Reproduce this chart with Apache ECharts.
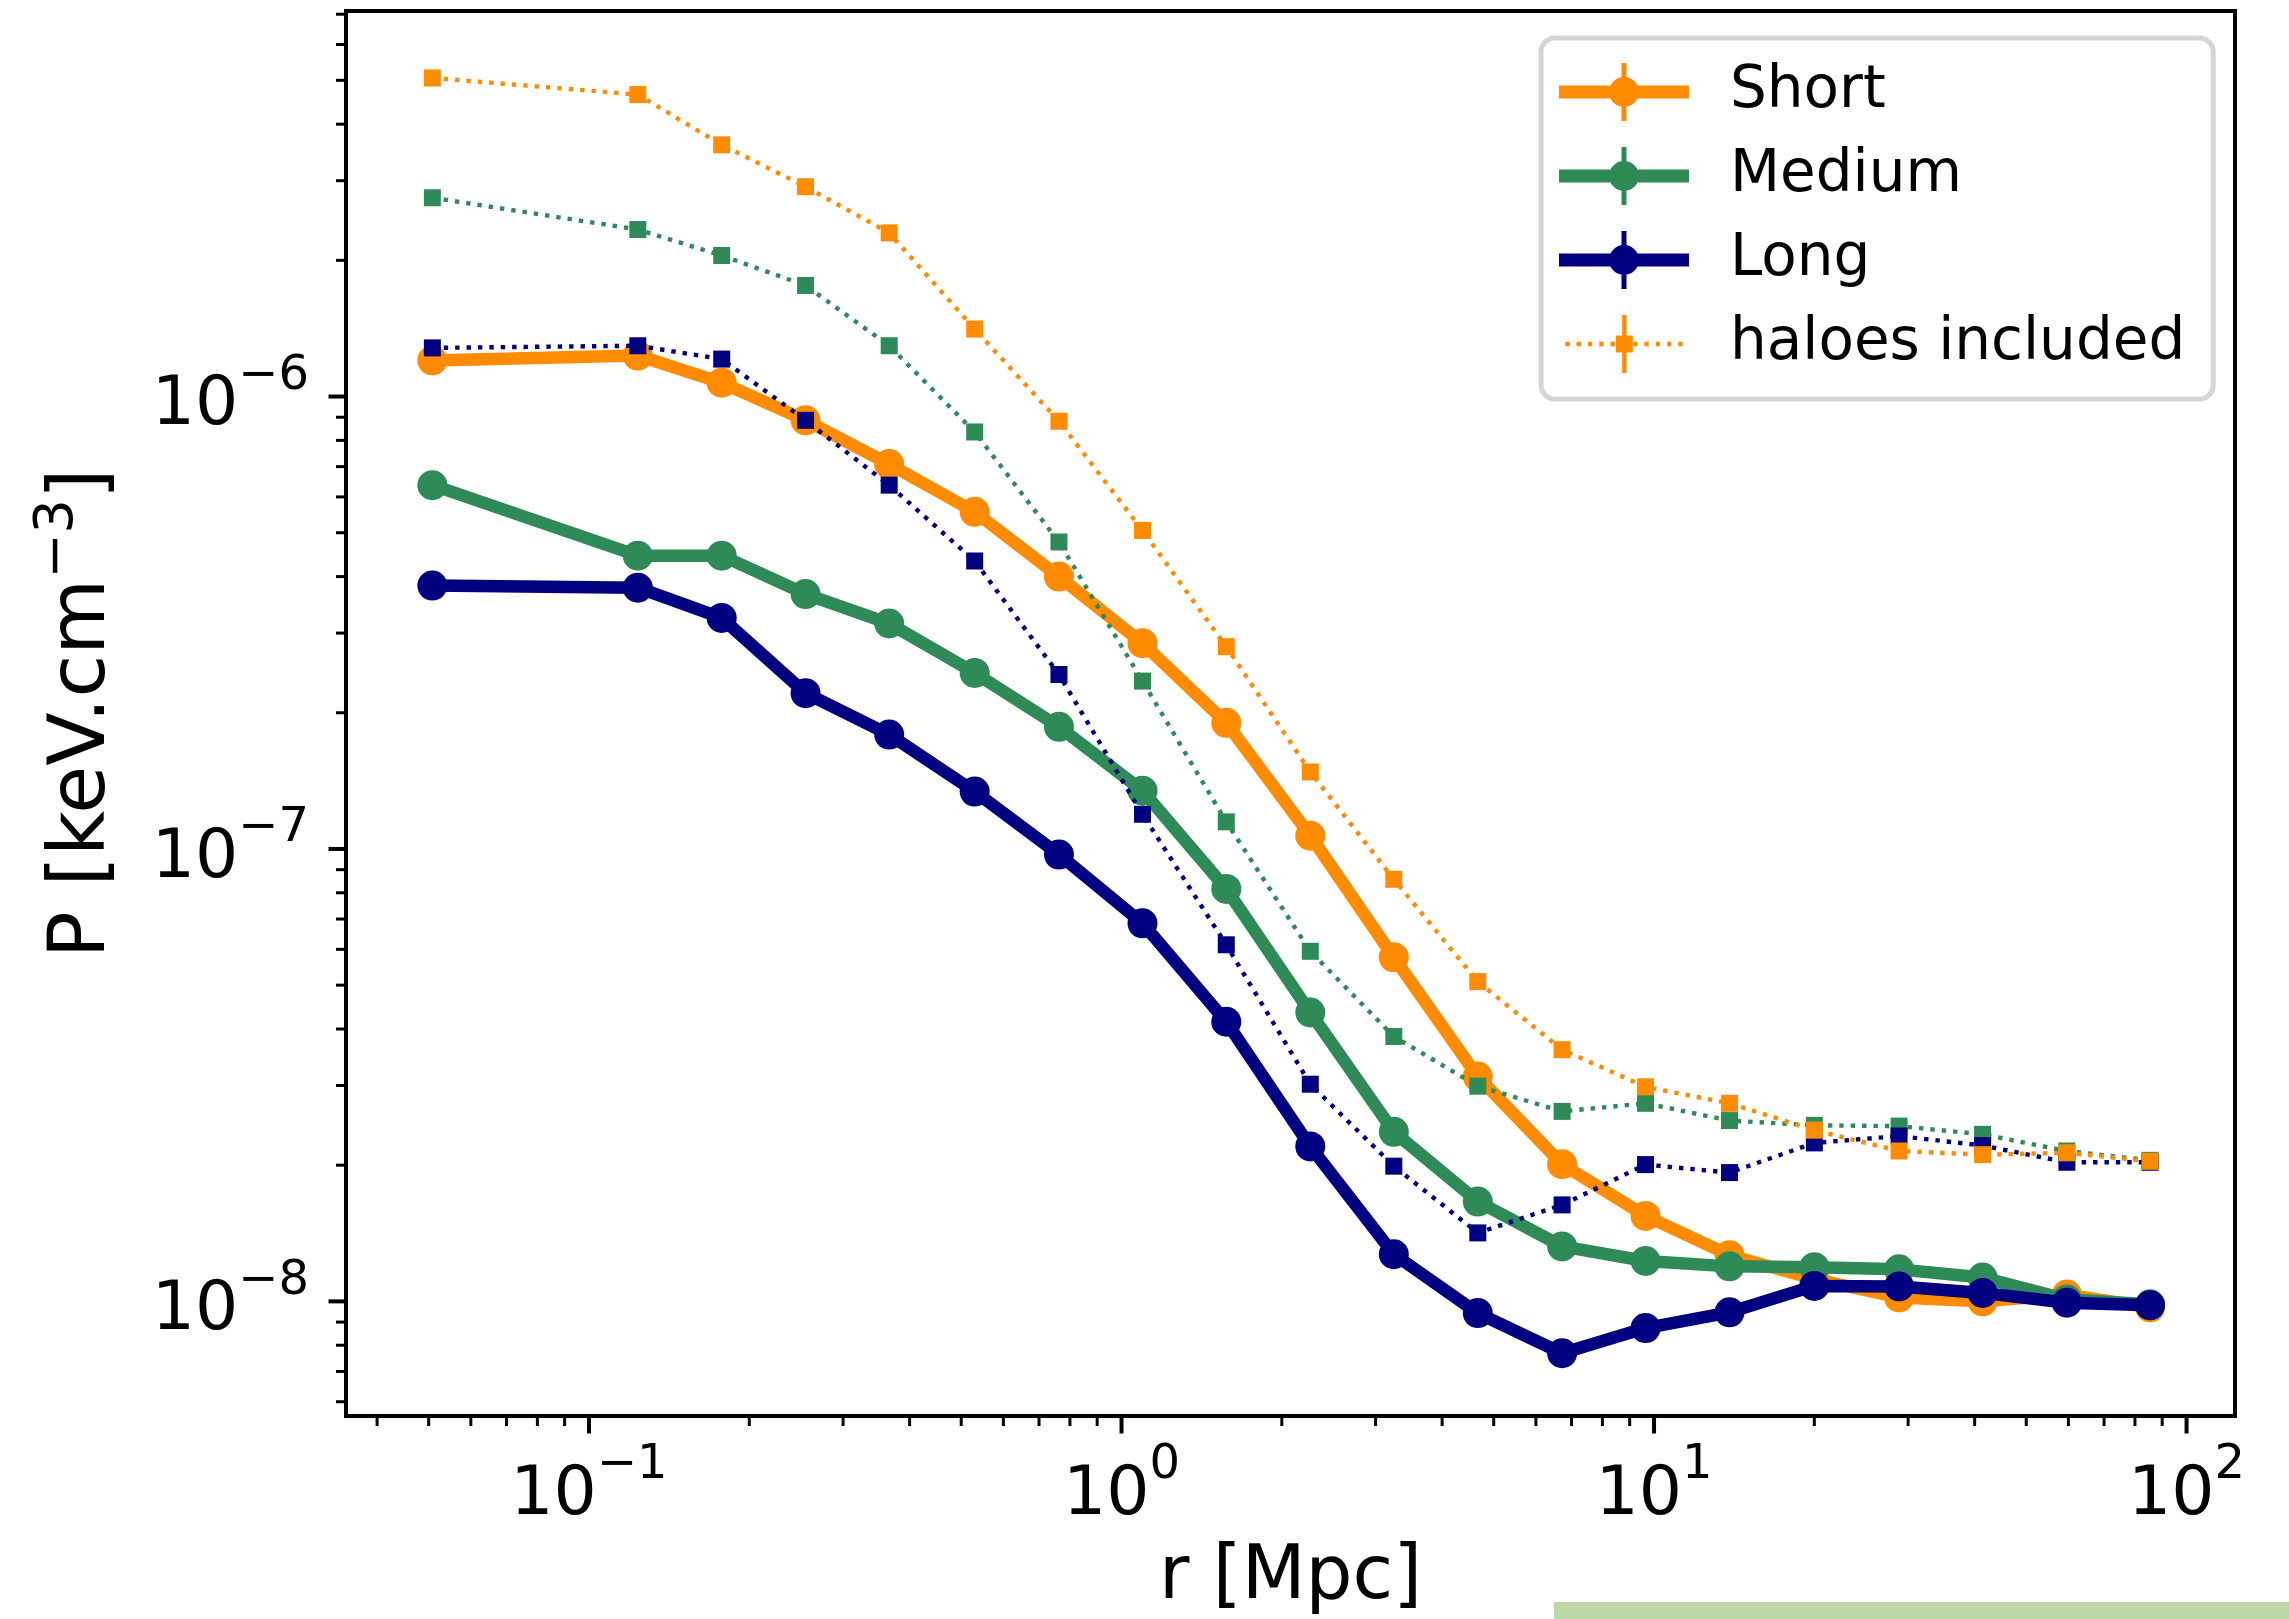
<!DOCTYPE html>
<html><head><meta charset="utf-8">
<script src="https://cdn.jsdelivr.net/npm/echarts@6/dist/echarts.min.js"></script>
<style>html,body{margin:0;padding:0;background:#fff}#c{width:2289px;height:1619px}</style>
</head><body><div id="c"></div>
<script>
// ---------- data ----------
const rValues = [0.0508, 0.1235, 0.1775, 0.2551, 0.3662, 0.530, 0.763, 1.095, 1.573, 2.262, 3.246, 4.667, 6.72, 9.64, 13.86, 20.0, 28.85, 41.4, 59.6, 85.4];
const shortP  = [1.202e-6, 1.232e-6, 1.073e-6, 8.86e-7, 7.09e-7, 5.56e-7, 4.00e-7, 2.85e-7, 1.90e-7, 1.07e-7, 5.76e-8, 3.14e-8, 2.01e-8, 1.545e-8, 1.265e-8, 1.12e-8, 1.02e-8, 1.0e-8, 1.035e-8, 9.7e-9];
const mediumP = [6.37e-7, 4.45e-7, 4.45e-7, 3.66e-7, 3.15e-7, 2.45e-7, 1.862e-7, 1.345e-7, 8.16e-8, 4.35e-8, 2.37e-8, 1.662e-8, 1.323e-8, 1.228e-8, 1.195e-8, 1.19e-8, 1.177e-8, 1.129e-8, 1.01e-8, 9.85e-9];
const longP   = [3.82e-7, 3.78e-7, 3.24e-7, 2.21e-7, 1.79e-7, 1.339e-7, 9.72e-8, 6.85e-8, 4.15e-8, 2.20e-8, 1.271e-8, 9.42e-9, 7.68e-9, 8.73e-9, 9.46e-9, 1.082e-8, 1.079e-8, 1.044e-8, 9.93e-9, 9.80e-9];
const shortHaloP  = [5.06e-6, 4.65e-6, 3.60e-6, 2.91e-6, 2.30e-6, 1.41e-6, 8.82e-7, 5.06e-7, 2.80e-7, 1.48e-7, 8.57e-8, 5.09e-8, 3.60e-8, 2.98e-8, 2.74e-8, 2.39e-8, 2.15e-8, 2.11e-8, 2.13e-8, 2.04e-8];
const mediumHaloP = [2.75e-6, 2.34e-6, 2.05e-6, 1.76e-6, 1.295e-6, 8.35e-7, 4.77e-7, 2.35e-7, 1.148e-7, 5.94e-8, 3.85e-8, 2.99e-8, 2.63e-8, 2.74e-8, 2.51e-8, 2.45e-8, 2.44e-8, 2.34e-8, 2.15e-8, 2.05e-8];
const longHaloP   = [1.281e-6, 1.295e-6, 1.21e-6, 8.86e-7, 6.37e-7, 4.33e-7, 2.43e-7, 1.193e-7, 6.14e-8, 3.02e-8, 1.99e-8, 1.417e-8, 1.634e-8, 2.006e-8, 1.926e-8, 2.24e-8, 2.32e-8, 2.21e-8, 2.03e-8, 2.03e-8];
const refSolid = 1e-8;
const refDashed = 2.1e-8;
const xMajorTicks = [0.1, 1, 10, 100];
const xMinorTicks = [0.04,0.05,0.06,0.07,0.08,0.09, 0.2,0.3,0.4,0.5,0.6,0.7,0.8,0.9, 2,3,4,5,6,7,8,9, 20,30,40,50,60,70,80,90];
const yMajorTicks = [1e-8, 1e-7, 1e-6];
const yMinorTicks = [6e-9,7e-9,8e-9,9e-9, 2e-8,3e-8,4e-8,5e-8,6e-8,7e-8,8e-8,9e-8, 2e-7,3e-7,4e-7,5e-7,6e-7,7e-7,8e-7,9e-7, 2e-6,3e-6,4e-6,5e-6,6e-6,7e-6];
const X_MIN = 0.03497, X_MAX = 123.3, Y_MIN = 5.58e-9, Y_MAX = 7.115e-6;

// ---------- styling ----------
const FONT = 'DejaVu Sans';
const ORANGE = '#ff8c00', GREEN = '#2e8b57', NAVY = '#000080';

function pair(vals) { return rValues.map((r, i) => [r, vals[i]]); }

function solidSeries(name, vals, color, z) {
  return { name, type: 'line', data: pair(vals), z, symbol: 'circle', symbolSize: 30, showSymbol: true,
    lineStyle: { color, width: 12.5, join: 'round', cap: 'round' },
    itemStyle: { color, borderWidth: 0 }, emphasis: { disabled: true }, animation: false, silent: true };
}
function dottedSeries(name, vals, color, z) {
  return { name, type: 'line', data: pair(vals), z, symbol: 'rect', symbolSize: 17, showSymbol: true,
    lineStyle: { color, width: 4.4, type: [4.4, 7.0], cap: 'butt' },
    itemStyle: { color, borderWidth: 0 }, emphasis: { disabled: true }, animation: false, silent: true };
}
function tickSeries(values, axis, len, width) {
  return { type: 'custom', silent: true, z: 30, clip: false, animation: false,
    data: values.map(v => axis === 'x' ? [v, Y_MIN] : [X_MIN, v]),
    renderItem: (params, api) => {
      const p = api.coord([api.value(0), api.value(1)]);
      const shape = axis === 'x'
        ? { x1: p[0], y1: p[1], x2: p[0], y2: p[1] + len }
        : { x1: p[0] - len, y1: p[1], x2: p[0], y2: p[1] };
      return { type: 'line', shape, style: { stroke: '#000', lineWidth: width } };
    } };
}
function expLabel(v) {
  const e = Math.log10(v);
  const r = Math.round(e);
  if (Math.abs(e - r) > 1e-6) return '';
  return '{b|10}{s|' + (r < 0 ? '\u2212' + (-r) : String(r)) + '}';
}
// legend icons (130 x 58 box)
function rectP(x, y, w, h) { return `M${x} ${y}H${x + w}V${y + h}H${x}Z`; }
const solidIcon = 'path://' + rectP(0, 22.5, 130, 13) +
  'M50 29A15 15 0 1 1 80 29A15 15 0 1 1 50 29Z' + rectP(62.5, 0, 5, 58);
let dots = '';
for (let k = 0; k < 11; k++) { const x = 6 + k * 11.3; dots += rectP(x, 26.85, 4.3, 4.3); }
const dottedIcon = 'path://' + dots + rectP(56.5, 20.5, 17, 17) + rectP(62.8, 0, 4.4, 58);

const tickRich = {
  b: { fontSize: 68, lineHeight: 88, verticalAlign: 'bottom', fontFamily: FONT, color: '#000' },
  s: { fontSize: 48, lineHeight: 46, verticalAlign: 'top', fontFamily: FONT, color: '#000' }
};

const chart = echarts.init(document.getElementById('c'), null, { renderer: 'canvas' });
chart.setOption({
  animation: false,
  backgroundColor: '#fff',
  grid: { left: 346, right: 54, top: 11, bottom: 203, show: true, borderColor: '#000', borderWidth: 4,
          backgroundColor: 'transparent', containLabel: false, outerBoundsMode: 'none' },
  xAxis: { type: 'log', logBase: 10, min: X_MIN, max: X_MAX,
    axisLine: { show: false }, axisTick: { show: false }, splitLine: { show: false }, minorTick: { show: false },
    axisLabel: { margin: 26, formatter: expLabel, color: '#000', rich: tickRich },
    name: 'r [Mpc]', nameLocation: 'middle', nameGap: 126,
    nameTextStyle: { fontSize: 74, lineHeight: 74, fontFamily: FONT, color: '#000' } },
  yAxis: { type: 'log', logBase: 10, min: Y_MIN, max: Y_MAX,
    axisLine: { show: false }, axisTick: { show: false }, splitLine: { show: false }, minorTick: { show: false },
    axisLabel: { margin: 37, formatter: expLabel, color: '#000', rich: tickRich },
    name: '{t|P [keV.cm}{s|\u22123}{t|]}', nameLocation: 'middle', nameRotate: 90, nameGap: 223,
    nameTextStyle: { color: '#000',
      rich: { t: { fontSize: 78, lineHeight: 92, verticalAlign: 'bottom', fontFamily: FONT, color: '#000' },
              s: { fontSize: 54, lineHeight: 48, verticalAlign: 'top', fontFamily: FONT, color: '#000' } } } },
  legend: { show: true, orient: 'vertical', left: 1541, top: 38, padding: [25, 28, 26, 18],
    itemWidth: 130, itemHeight: 58, itemGap: 26, selectedMode: false,
    backgroundColor: 'rgba(255,255,255,0.8)', borderColor: '#d5d5d5', borderWidth: 5, borderRadius: 14,
    textStyle: { fontSize: 58, lineHeight: 58, fontFamily: FONT, color: '#000', padding: [0, 0, 0, 36] },
    itemStyle: { borderWidth: 0 },
    data: [ { name: 'Short', icon: solidIcon }, { name: 'Medium', icon: solidIcon },
            { name: 'Long', icon: solidIcon }, { name: 'haloes included', icon: dottedIcon } ] },
  graphic: [ { type: 'rect', shape: { x: 1554, y: 1602, width: 735, height: 17 }, style: { fill: '#bcd9a5' }, silent: true } ],
  series: [
    Object.assign(solidSeries('Short', shortP, ORANGE, 10), {
      markLine: { silent: true, symbol: 'none', z: 3, animation: false, label: { show: false },
        data: [ { yAxis: refSolid, lineStyle: { color: '#c0c0c0', width: 4.2, type: 'solid' } },
                { yAxis: refDashed, lineStyle: { color: '#c0c0c0', width: 4.2, type: [15.5, 6.7] } } ] } }),
    solidSeries('Medium', mediumP, GREEN, 11),
    solidSeries('Long', longP, NAVY, 12),
    dottedSeries('Medium haloes', mediumHaloP, GREEN, 13),
    dottedSeries('Long haloes', longHaloP, NAVY, 14),
    dottedSeries('haloes included', shortHaloP, ORANGE, 15),
    tickSeries(xMajorTicks, 'x', 17.5, 4),
    tickSeries(xMinorTicks, 'x', 10, 3),
    tickSeries(yMajorTicks, 'y', 17.5, 4),
    tickSeries(yMinorTicks, 'y', 10, 3)
  ]
});
</script></body></html>
